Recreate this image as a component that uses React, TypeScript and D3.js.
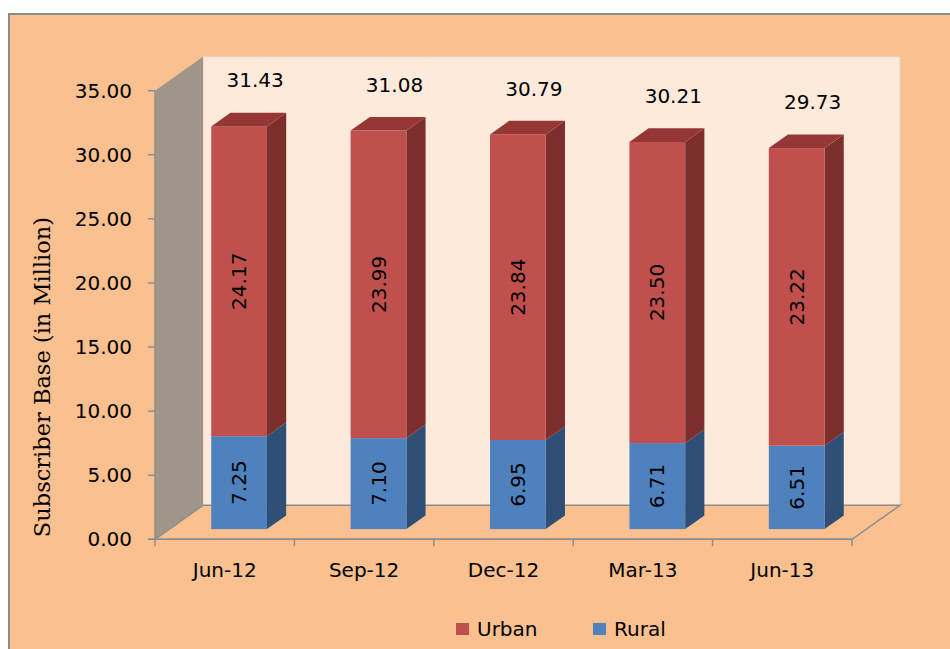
import React from "react";
import * as d3 from "d3";

const categories = ["Jun-12", "Sep-12", "Dec-12", "Mar-13", "Jun-13"];
const rural = [7.25, 7.1, 6.95, 6.71, 6.51];
const urban = [24.17, 23.99, 23.84, 23.5, 23.22];
const totals = [31.43, 31.08, 30.79, 30.21, 29.73];
const yTicks = [0, 5, 10, 15, 20, 25, 30, 35];
const seriesNames = ["Urban", "Rural"];

const W = 950;
const H = 649;
const DX = 48;
const DY = 34;
const T0 = 0.3;
const T1 = 0.7;
const FONT = "'DejaVu Sans', Verdana, sans-serif";

const colors = {
  Urban: { front: "#C0504D", side: "#7D2F2E", top: "#953735" },
  Rural: { front: "#4F81BD", side: "#2F4F76", top: "#385D8A" },
};

export default function App() {
  const y = d3.scaleLinear().domain([0, 35]).range([539.3, 90.7]);
  const x = d3.scaleBand<string>().domain(categories).range([155, 852]).padding(0);
  const bw = x.bandwidth();
  const barW = bw * 0.4;
  const x0 = x.range()[0];
  const x1 = x.range()[1];
  const yb = y(0);
  const yt = y(35);

  const pt = (px: number, v: number, t: number) => [px + t * DX, y(v) - t * DY];
  const poly = (pts: number[][]) => pts.map((p) => p.join(",")).join(" ");

  const box = (key: string, left: number, v0: number, v1: number, c: { front: string; side: string; top: string }, drawTop: boolean) => {
    const right = left + barW;
    const fl = pt(left, v1, T0);
    const fr = pt(right, v1, T0);
    const frb = pt(right, v0, T0);
    const br = pt(right, v1, T1);
    const brb = pt(right, v0, T1);
    const bl = pt(left, v1, T1);
    return (
      <g key={key}>
        <polygon points={poly([fr, br, brb, frb])} fill={c.side} />
        <rect x={fl[0]} y={fl[1]} width={barW} height={frb[1] - fr[1]} fill={c.front} />
        {drawTop && <polygon points={poly([fl, bl, br, fr])} fill={c.top} />}
      </g>
    );
  };

  return (
    <div style={{ position: "absolute", left: 0, top: 0 }}>
      <svg width={W} height={H} style={{ display: "block" }}>
        <rect x={0} y={0} width={W} height={H} fill="#ffffff" />
        <rect x={9} y={14} width={W + 20} height={H + 20} fill="#FAC090" stroke="#8C8C8C" strokeWidth={2} />
        {/* back wall */}
        <rect x={x0 + DX} y={yt - DY} width={x1 - x0} height={yb - yt} fill="#FDEADA" stroke="#EBD3C2" strokeWidth={1} />
        {/* side wall */}
        <polygon points={poly([[x0, yt], [x0 + DX, yt - DY], [x0 + DX, yb - DY], [x0, yb]])} fill="#A0958A" />
        {/* floor */}
        <polygon
          points={poly([[x0, yb], [x0 + DX, yb - DY], [x1 + DX, yb - DY], [x1, yb]])}
          fill="#FAC090"
          stroke="#8E8E8E"
          strokeWidth={1.5}
        />
        {/* y axis */}
        <line x1={x0} y1={yt} x2={x0} y2={yb} stroke="#8E8E8E" strokeWidth={1.5} />
        {yTicks.map((t) => (
          <g key={t}>
            <line x1={x0 - 7} x2={x0} y1={y(t)} y2={y(t)} stroke="#8E8E8E" strokeWidth={1.5} />
            <text x={132} y={y(t)} dy="0.35em" textAnchor="end" fontFamily={FONT} fontSize={20} fill="#000">
              {t.toFixed(2)}
            </text>
          </g>
        ))}
        <line x1={x0 - 7} x2={x1} y1={yb} y2={yb} stroke="#8E8E8E" strokeWidth={1.5} />
        {categories.map((c, i) => (
          <line key={"tk" + i} x1={x(c)!} x2={x(c)!} y1={yb} y2={yb + 7} stroke="#8E8E8E" strokeWidth={1.5} />
        ))}
        <line x1={x1} x2={x1} y1={yb} y2={yb + 7} stroke="#8E8E8E" strokeWidth={1.5} />
        {categories.map((c) => (
          <text key={"cl" + c} x={x(c)! + bw / 2} y={570} dy="0.35em" textAnchor="middle" fontFamily={FONT} fontSize={20} fill="#000">
            {c}
          </text>
        ))}
        {/* bars */}
        {categories.map((c, i) => {
          const left = x(c)! + (bw - barW) / 2;
          const cx = left + barW / 2 + T0 * DX;
          const ruralMid = y(rural[i] / 2) - T0 * DY;
          const urbanMid = y(rural[i] + urban[i] / 2) - T0 * DY;
          return (
            <g key={"b" + c}>
              {box("r", left, 0, rural[i], colors.Rural, false)}
              {box("u", left, rural[i], rural[i] + urban[i], colors.Urban, true)}
              <text
                transform={`translate(${cx},${ruralMid}) rotate(-90)`}
                dy="0.35em"
                textAnchor="middle"
                fontFamily={FONT}
                fontSize={20}
                fill="#000"
              >
                {rural[i].toFixed(2)}
              </text>
              <text
                transform={`translate(${cx},${urbanMid}) rotate(-90)`}
                dy="0.35em"
                textAnchor="middle"
                fontFamily={FONT}
                fontSize={20}
                fill="#000"
              >
                {urban[i].toFixed(2)}
              </text>
              <text x={cx + 16} y={y(totals[i]) - 56} dy="0.35em" textAnchor="middle" fontFamily={FONT} fontSize={20} fill="#000">
                {totals[i].toFixed(2)}
              </text>
            </g>
          );
        })}
        {/* y title */}
        <text
          transform={`translate(42,377) rotate(-90)`}
          dy="0.35em"
          textAnchor="middle"
          fontFamily="'DejaVu Serif', serif"
          fontSize={22.5}
          fill="#000"
        >
          Subscriber Base (in Million)
        </text>
        {/* legend */}
        {seriesNames.map((s, i) => {
          const lx = i === 0 ? 456 : 593;
          return (
            <g key={"lg" + s}>
              <rect x={lx} y={623} width={13} height={12} fill={colors[s as "Urban" | "Rural"].front} />
              <text x={lx + 21} y={629} dy="0.35em" fontFamily={FONT} fontSize={20} fill="#000">
                {s}
              </text>
            </g>
          );
        })}
      </svg>
    </div>
  );
}
